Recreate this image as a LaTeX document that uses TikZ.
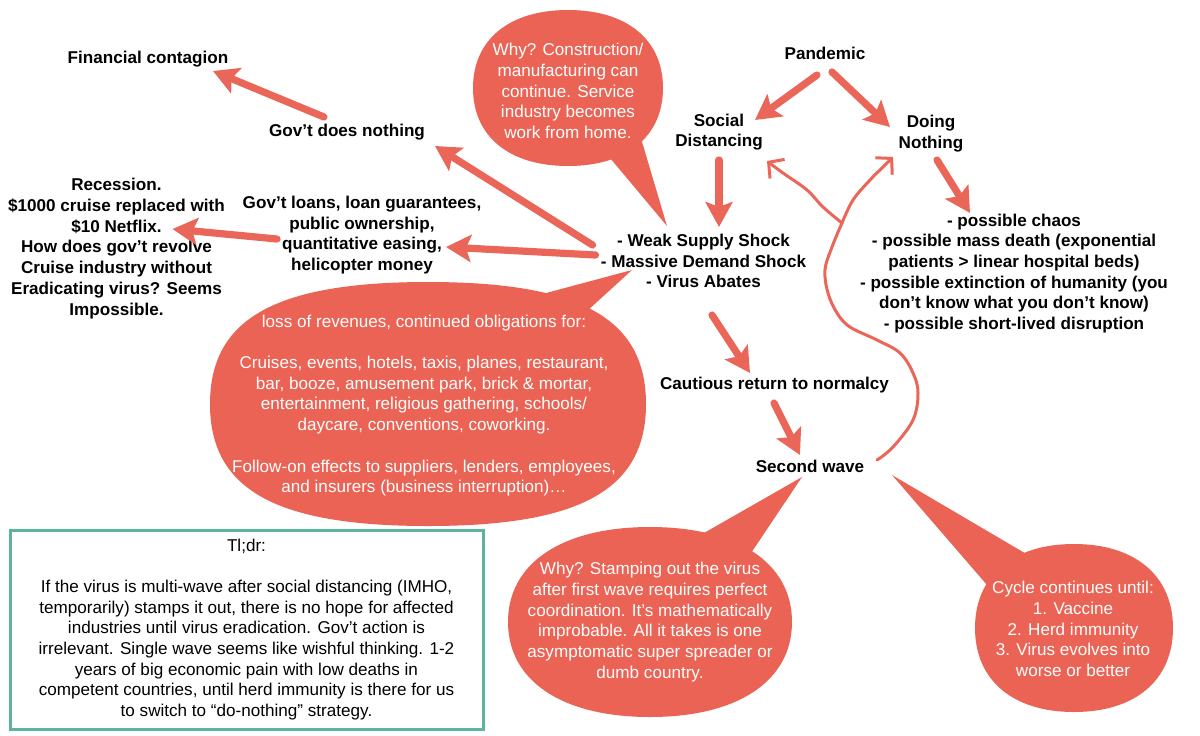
\documentclass[tikz,border=0pt]{standalone}
\usepackage{fontspec}
\setmainfont{Liberation Sans}
\usetikzlibrary{arrows.meta,calc}
\definecolor{bub}{RGB}{235,99,84}
\definecolor{arr}{RGB}{234,102,88}
\definecolor{tldrgreen}{RGB}{92,180,158}
% #1 cx, #2 cy, #3 rx, #4 ry, #5 k
\newcommand\bubbleblob[5]{%
  \fill[bub] (#1+#3,#2) .. controls (#1+#3,#2+#5*#4) and (#1+#5*#3,#2+#4) .. (#1,#2+#4)
   .. controls (#1-#5*#3,#2+#4) and (#1-#3,#2+#5*#4) .. (#1-#3,#2)
   .. controls (#1-#3,#2-#5*#4) and (#1-#5*#3,#2-#4) .. (#1,#2-#4)
   .. controls (#1+#5*#3,#2-#4) and (#1+#3,#2-#5*#4) .. (#1+#3,#2) -- cycle;}
\begin{document}
\begin{tikzpicture}[x=0.5pt,y=-0.5pt,
  every node/.style={font=\fontsize{8.55pt}{10.35pt}\selectfont, inner sep=0pt, align=center},
  lbl/.style={font=\fontsize{8.55pt}{10.35pt}\selectfont\bfseries, text=black},
  btxt/.style={text=white},
  arrow/.style={draw=arr, line width=3.6pt, line cap=round, -{Stealth[length=12.5pt,width=13.5pt,inset=2.5pt]}},
  curvy/.style={draw=arr, line width=1.5pt, line cap=round, line join=round, -{Straight Barb[length=5.5pt,width=12pt]}},
]
\useasboundingbox (0,0) rectangle (1200,735);

% ---- bubbles ----
\bubbleblob{568}{88}{95}{78}{0.62}
\fill[bub] (605,152) -- (667,226) -- (640,135) -- cycle;
\bubbleblob{428}{404}{218}{122}{0.7}
\fill[bub] (520,300) -- (632,270) -- (575,322) -- cycle;
\bubbleblob{650}{622}{142}{95}{0.62}
\fill[bub] (690,541) -- (802,477) -- (745,562) -- cycle;
\bubbleblob{1074}{628}{99}{84}{0.62}
\fill[bub] (1000,600) -- (892,475) -- (1040,562) -- cycle;

% ---- bubble texts ----
\node[btxt] (bA) at (568,91) {Why? Construction/\\manufacturing can\\continue. Service\\industry becomes\\work from home.};
\node[btxt] (bB) at (424,405.5) {loss of revenues, continued obligations for:\\[10.35pt]
Cruises, events, hotels, taxis, planes, restaurant,\\bar, booze, amusement park, brick \& mortar,\\entertainment, religious gathering, schools/\\daycare, conventions, coworking.\\[10.35pt]
Follow-on effects to suppliers, lenders, employees,\\and insurers (business interruption)…};
\node[btxt] (bC) at (650,622) {Why? Stamping out the virus\\after first wave requires perfect\\coordination. It’s mathematically\\improbable. All it takes is one\\asymptomatic super spreader or\\dumb country.};
\node[btxt] (bD) at (1073,629) {Cycle continues until:\\1. Vaccine\\2. Herd immunity\\3. Virus evolves into\\worse or better};

% ---- tl;dr box ----
\node[draw=tldrgreen, line width=1.5pt, minimum width=236.5pt, minimum height=99.5pt] (tldr) at (246.5,629.5)
{Tl;dr:\\[10.3pt]
If the virus is multi-wave after social distancing (IMHO,\\temporarily) stamps it out, there is no hope for affected\\industries until virus eradication. Gov’t action is\\irrelevant. Single wave seems like wishful thinking. 1-2\\years of big economic pain with low deaths in\\competent countries, until herd immunity is there for us\\to switch to “do-nothing” strategy.};

% ---- labels ----
\node[lbl] (fc) at (148,59) {Financial contagion};
\node[lbl] (gdn) at (347,132) {Gov’t does nothing};
\node[lbl] (rec) at (116.5,248.5) {Recession.\\\$1000 cruise replaced with\\\$10 Netflix.\\How does gov’t revolve\\Cruise industry without\\Eradicating virus? Seems\\Impossible.};
\node[lbl] (loans) at (362,235) {Gov’t loans, loan guarantees,\\public ownership,\\quantitative easing,\\helicopter money};
\node[lbl] (shock) at (703.5,261) {- Weak Supply Shock\\- Massive Demand Shock\\- Virus Abates};
\node[lbl] (pan) at (825,53) {Pandemic};
\node[lbl] (sd) at (719,132) {Social\\Distancing};
\node[lbl] (dn) at (931,133.5) {Doing\\Nothing};
\node[lbl] (list) at (1014,273.5) {- possible chaos\\- possible mass death (exponential\\patients > linear hospital beds)\\- possible extinction of humanity (you\\don’t know what you don’t know)\\- possible short-lived disruption};
\node[lbl] (cr) at (774.5,385) {Cautious return to normalcy};
\node[lbl] (sw) at (810,466) {Second wave};

% ---- thick arrows ----
\draw[arrow] ($(gdn)+(-23,-15)$) -- ($(fc)+(65,12)$);
\draw[arrow] ($(shock)+(-111,-16)$) -- ($(gdn)+(88,14)$);
\draw[arrow] ($(shock)+(-108,-6)$) -- ($(loans)+(84,12)$);
\draw[arrow] ($(loans)+(-85,4)$) -- ($(rec)+(56,-19.5)$);
\draw[arrow] ($(pan)+(-8,22)$) -- ($(sd)+(36,-12)$);
\draw[arrow] ($(pan)+(7,19)$) -- ($(dn)+(-41,-6.5)$);
\draw[arrow] ($(sd)+(0,28)$) -- ($(shock)+(15.5,-34)$);
\draw[arrow] ($(dn)+(6,26.5)$) -- ($(list)+(-44,-60.5)$);
\draw[arrow] ($(shock)+(8.5,54)$) -- ($(cr)+(-24.5,-12)$);
\draw[arrow] ($(cr)+(-0.5,18)$) -- ($(sw)+(-10,-11)$);

% ---- hand-drawn loop ----
\coordinate (cstart) at ($(sw)+(67,-6)$);
\coordinate (branch) at (842,223);
\coordinate (lend) at ($(sd)+(48,29)$);
\coordinate (rend) at ($(dn)+(-38,23.5)$);
\draw[draw=arr, line width=1.5pt, line cap=round, line join=round] plot[smooth, tension=0.6] coordinates {(cstart) (893,447) (913,420) (918,393) (913,373) (900,353) (877,340) (850,327) (837,313) (828,293) (825,270) (832,247) (branch)};
\draw[curvy] plot[smooth, tension=0.6] coordinates {(branch) (823,207) (807,190) (783,173) (lend)};
\draw[curvy] plot[smooth, tension=0.6] coordinates {(branch) (853,200) (870,180) (883,167) (rend)};
\end{tikzpicture}
\end{document}
